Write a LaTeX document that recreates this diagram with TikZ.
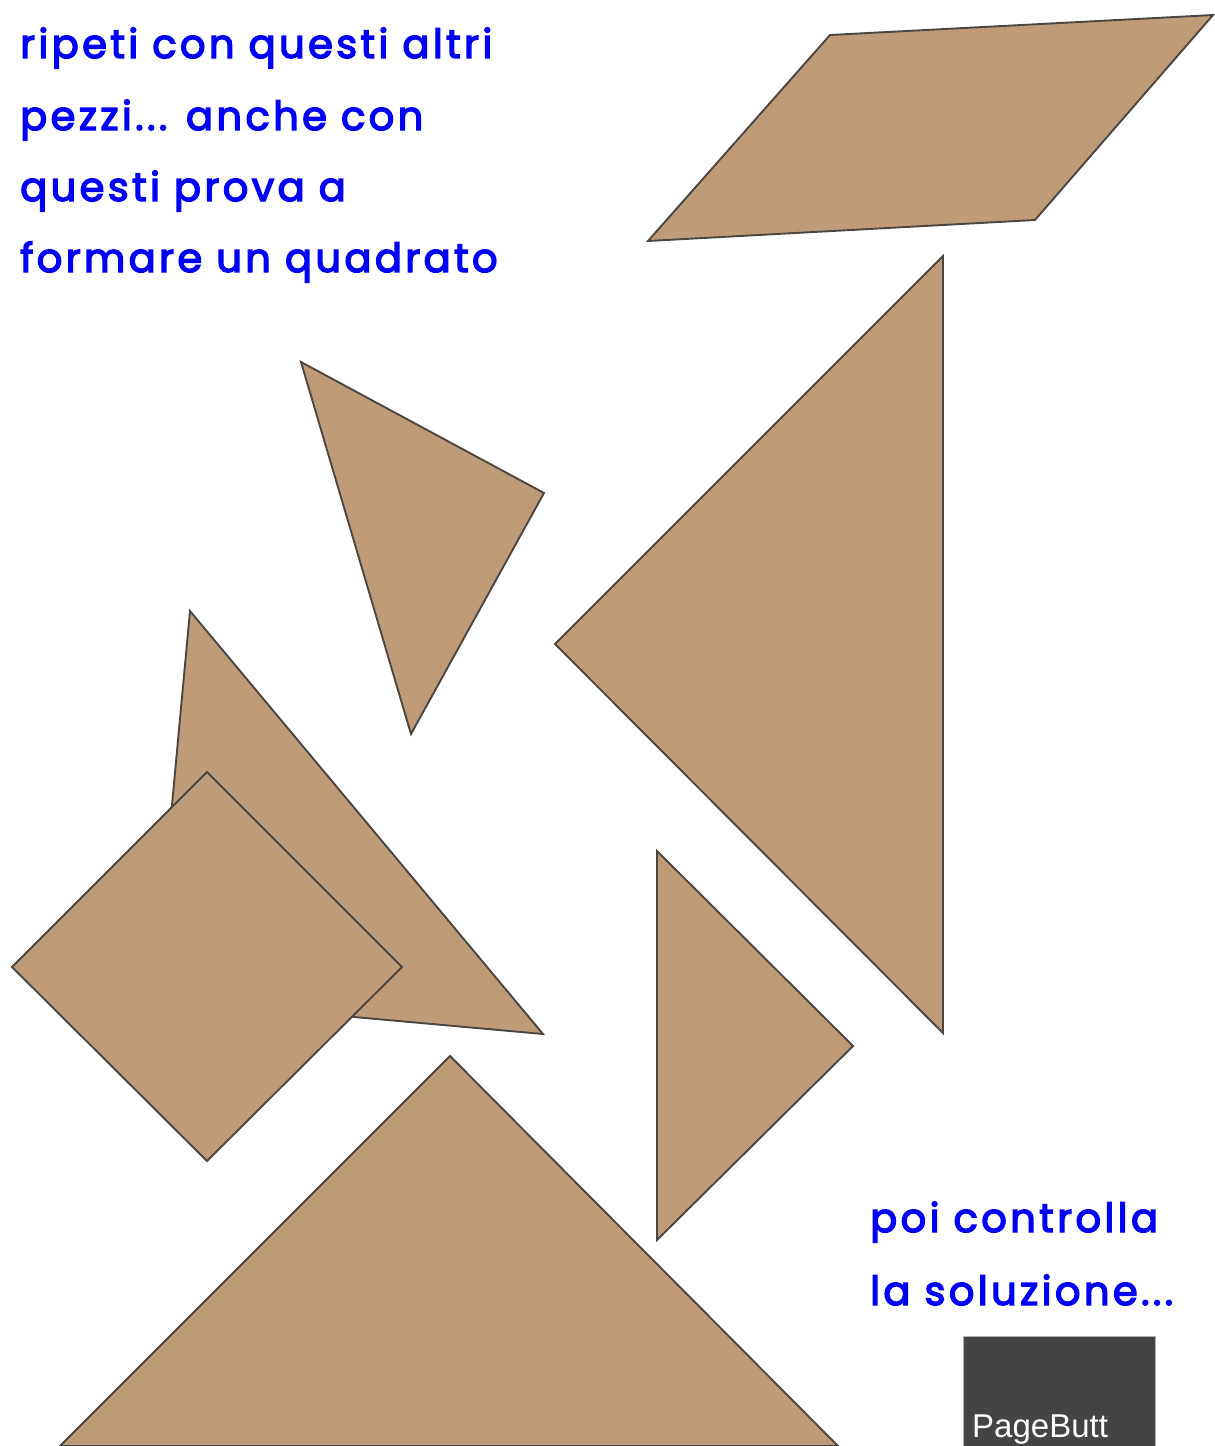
\documentclass[tikz,border=0pt]{standalone}
\usepackage{fontspec}
\setmainfont{Poppins}
\newfontfamily\msgfont[LetterSpace=8.5,FakeBold=3.5]{Poppins}
\newfontfamily\btnfont{Liberation Sans}
\definecolor{piece}{RGB}{191,155,120}
\definecolor{edge}{RGB}{75,70,65}
\definecolor{txtblue}{RGB}{0,0,245}
\definecolor{btn}{RGB}{68,68,68}
\begin{document}
\begin{tikzpicture}[x=1pt,y=-1pt,
  piecestyle/.style={fill=piece,draw=edge,line width=1.9pt,line join=miter},
  msg/.style={anchor=base west,inner sep=0pt,text=txtblue,font=\msgfont\fontsize{40}{44}\selectfont}]
\useasboundingbox (0,0) rectangle (1215,1446);
% parallelogram
\fill[piecestyle] (830,35) -- (1213,15) -- (1035,220) -- (648,241) -- cycle;
% small top triangle
\fill[piecestyle] (301,362) -- (544,493) -- (411,734) -- cycle;
% large right triangle
\fill[piecestyle] (943,256) -- (943,1033) -- (555,644) -- cycle;
% medium triangle
\fill[piecestyle] (190,611) -- (543,1034) -- (154,999) -- cycle;
% square
\fill[piecestyle] (207,772) -- (402,967) -- (207,1161) -- (12,967) -- cycle;
% small bottom triangle
\fill[piecestyle] (657,851) -- (853,1046) -- (657,1240) -- cycle;
% large bottom triangle
\fill[piecestyle] (450,1056) -- (838,1446) -- (60,1446) -- cycle;
% button
\fill[btn,draw=gray!60,line width=1pt] (963,1336) rectangle (1155,1450);
\node[anchor=base west,inner sep=0pt,text=white,font=\btnfont\fontsize{33}{36}\selectfont] (btn) at (972,1437) {PageButt};
% texts
\node[msg] (t1) at (20,58) {ripeti con questi altri};
\node[msg] (t2) at (20,130) {pezzi... anche con};
\node[msg] (t3) at (20,201) {questi prova a};
\node[msg] (t4) at (20,272) {formare un quadrato};
\node[msg] (s1) at (870,1232) {poi controlla};
\node[msg] (s2) at (870,1305) {la soluzione...};
\end{tikzpicture}
\end{document}
